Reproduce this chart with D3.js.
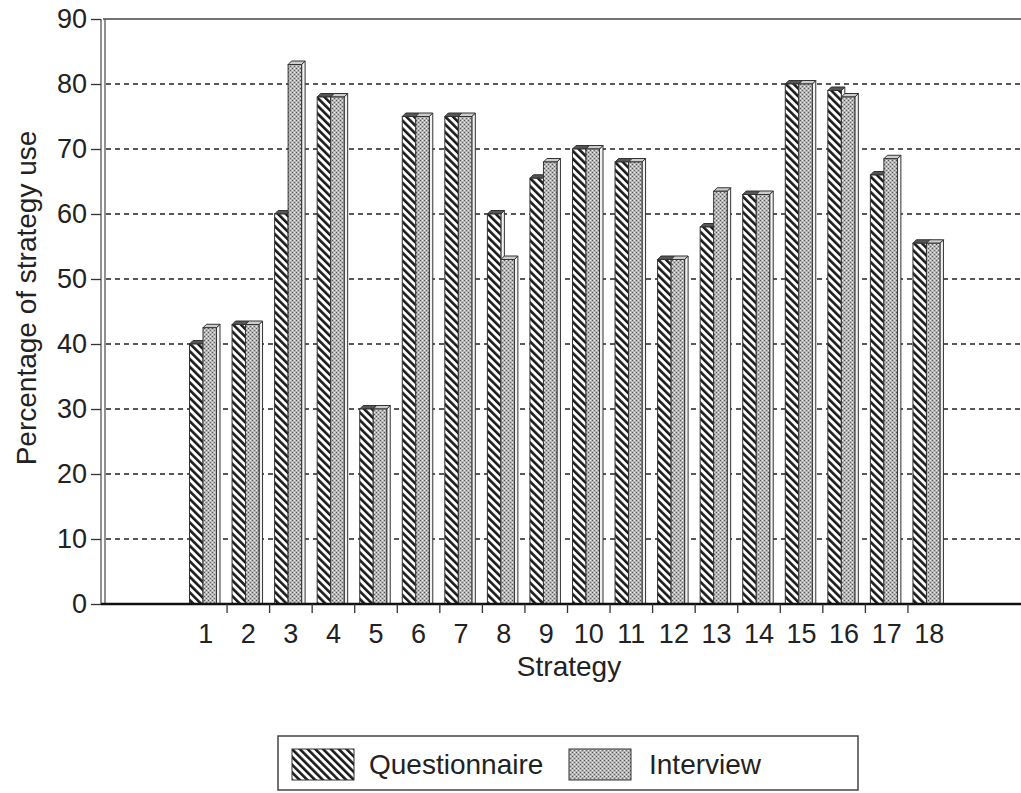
<!DOCTYPE html>
<html>
<head>
<meta charset="utf-8">
<script src="https://cdn.jsdelivr.net/npm/d3@7/dist/d3.min.js"></script>
<style>
  html, body { margin: 0; padding: 0; background: #fff; }
  svg { display: block; }
  text { font-family: "Liberation Sans", Arial, Helvetica, sans-serif; fill: #222; }
</style>
</head>
<body>
<script>
// ---- data ----
const categories = ["1","2","3","4","5","6","7","8","9","10","11","12","13","14","15","16","17","18"];
const questionnaire = [40, 43, 60, 78, 30, 75, 75, 60, 65.5, 70, 68, 53, 58, 63, 80, 79, 66, 55.5];
const interview     = [42.5, 43, 83, 78, 30, 75, 75, 53, 68, 70, 68, 53, 63.5, 63, 80, 78, 68.5, 55.5];
const yTicks = [0, 10, 20, 30, 40, 50, 60, 70, 80, 90];
const seriesNames = ["Questionnaire", "Interview"];
const xTitle = "Strategy";
const yTitle = "Percentage of strategy use";

// ---- layout ----
const W = 1021, H = 793;
const axisX = 103, axisRight = 1021;
const svg = d3.select("body").append("svg").attr("width", W).attr("height", H);

const y = d3.scaleLinear().domain([0, 90]).range([604, 19]);
const x = d3.scaleBand().domain(categories).range([184.5, 950.5]).padding(0);

// patterns
const defs = svg.append("defs");
const pq = defs.append("pattern").attr("id", "pq").attr("patternUnits", "userSpaceOnUse")
  .attr("width", 5.5).attr("height", 5.5).attr("patternTransform", "rotate(-45)");
pq.append("rect").attr("width", 5.5).attr("height", 5.5).attr("fill", "#fff");
pq.append("rect").attr("x", 0).attr("y", 0).attr("width", 2.6).attr("height", 5.5).attr("fill", "#1a1a1a");

const pi = defs.append("pattern").attr("id", "pi").attr("patternUnits", "userSpaceOnUse")
  .attr("width", 4).attr("height", 4);
pi.append("rect").attr("width", 4).attr("height", 4).attr("fill", "#b4b4b4");
pi.append("rect").attr("x", 0).attr("y", 0).attr("width", 1).attr("height", 1).attr("fill", "#555");
pi.append("rect").attr("x", 2).attr("y", 2).attr("width", 1).attr("height", 1).attr("fill", "#666");
pi.append("rect").attr("x", 2).attr("y", 0).attr("width", 1).attr("height", 1).attr("fill", "#eee");
pi.append("rect").attr("x", 0).attr("y", 2).attr("width", 1).attr("height", 1).attr("fill", "#e8e8e8");

// gridlines (dashed)
svg.append("g").selectAll("line").data(yTicks.filter(d => d > 0 && d < 90)).join("line")
  .attr("x1", axisX + 3).attr("x2", axisRight)
  .attr("y1", d => y(d)).attr("y2", d => y(d))
  .attr("stroke", "#222").attr("stroke-width", 1.6).attr("stroke-dasharray", "5,4");

// top border
svg.append("line").attr("x1", axisX).attr("x2", axisRight).attr("y1", y(90)).attr("y2", y(90))
  .attr("stroke", "#444").attr("stroke-width", 1.5);

// bars (3D-ish)
const depth = 3.5, bw = 13.5, off = 5;
const gBars = svg.append("g");
categories.forEach((c, i) => {
  const vals = [questionnaire[i], interview[i]];
  vals.forEach((v, k) => {
    const x0 = x(c) + off + k * bw;
    const yt = y(v), y0 = y(0);
    const g = gBars.append("g");
    g.append("path")
      .attr("d", `M${x0 + bw},${yt} L${x0 + bw + depth},${yt - depth} L${x0 + bw + depth},${y0} L${x0 + bw},${y0} Z`)
      .attr("fill", "#f2f2f2").attr("stroke", "#333").attr("stroke-width", 1);
    g.append("path")
      .attr("d", `M${x0},${yt} L${x0 + depth},${yt - depth} L${x0 + bw + depth},${yt - depth} L${x0 + bw},${yt} Z`)
      .attr("fill", k === 0 ? "#555" : "#ccc").attr("stroke", "#333").attr("stroke-width", 1);
    g.append("rect").attr("x", x0).attr("y", yt).attr("width", bw).attr("height", y0 - yt)
      .attr("fill", k === 0 ? "url(#pq)" : "url(#pi)").attr("stroke", "#333").attr("stroke-width", 1);
  });
});

// y axis (double line)
svg.append("line").attr("x1", axisX - 2).attr("x2", axisX - 2).attr("y1", y(90)).attr("y2", y(0))
  .attr("stroke", "#555").attr("stroke-width", 1.3);
svg.append("line").attr("x1", axisX + 2).attr("x2", axisX + 2).attr("y1", y(90)).attr("y2", y(0))
  .attr("stroke", "#555").attr("stroke-width", 1.3);

const yAxis = d3.axisLeft(y).tickValues(yTicks).tickSize(10).tickPadding(4);
const gy = svg.append("g").attr("transform", `translate(${axisX - 2},0)`).call(yAxis);
gy.select(".domain").remove();
gy.selectAll(".tick line").attr("stroke", "#333").attr("stroke-width", 1.3);
gy.selectAll(".tick text").attr("font-size", 27).attr("fill", "#222")
  .attr("font-family", "'Liberation Sans', Arial, sans-serif");

// x axis baseline
svg.append("line").attr("x1", axisX - 2).attr("x2", axisRight).attr("y1", y(0)).attr("y2", y(0))
  .attr("stroke", "#111").attr("stroke-width", 2.5);

// x ticks at band boundaries
svg.append("g").selectAll("line").data(categories.slice(1)).join("line")
  .attr("x1", d => x(d)).attr("x2", d => x(d))
  .attr("y1", y(0)).attr("y2", y(0) + 9)
  .attr("stroke", "#333").attr("stroke-width", 1.3);

// x labels
svg.append("g").selectAll("text").data(categories).join("text")
  .attr("x", d => x(d) + x.bandwidth() / 2)
  .attr("y", 643)
  .attr("text-anchor", "middle").attr("font-size", 27)
  .text(d => d);

// titles
svg.append("text").attr("x", 569).attr("y", 676).attr("text-anchor", "middle")
  .attr("font-size", 28).text(xTitle);
svg.append("text").attr("transform", "translate(36,298) rotate(-90)").attr("text-anchor", "middle")
  .attr("font-size", 28).text(yTitle);

// legend
const lg = svg.append("g");
lg.append("rect").attr("x", 278).attr("y", 736).attr("width", 580).attr("height", 54)
  .attr("fill", "#fff").attr("stroke", "#444").attr("stroke-width", 1.5);
const legendItems = [
  { name: seriesNames[0], fill: "url(#pq)", sx: 292, tx: 369 },
  { name: seriesNames[1], fill: "url(#pi)", sx: 569, tx: 649 }
];
legendItems.forEach(it => {
  lg.append("rect").attr("x", it.sx).attr("y", 749).attr("width", 62).attr("height", 31)
    .attr("fill", it.fill).attr("stroke", "#333").attr("stroke-width", 1);
  lg.append("text").attr("x", it.tx).attr("y", 774).attr("font-size", 28).text(it.name);
});
</script>
</body>
</html>
